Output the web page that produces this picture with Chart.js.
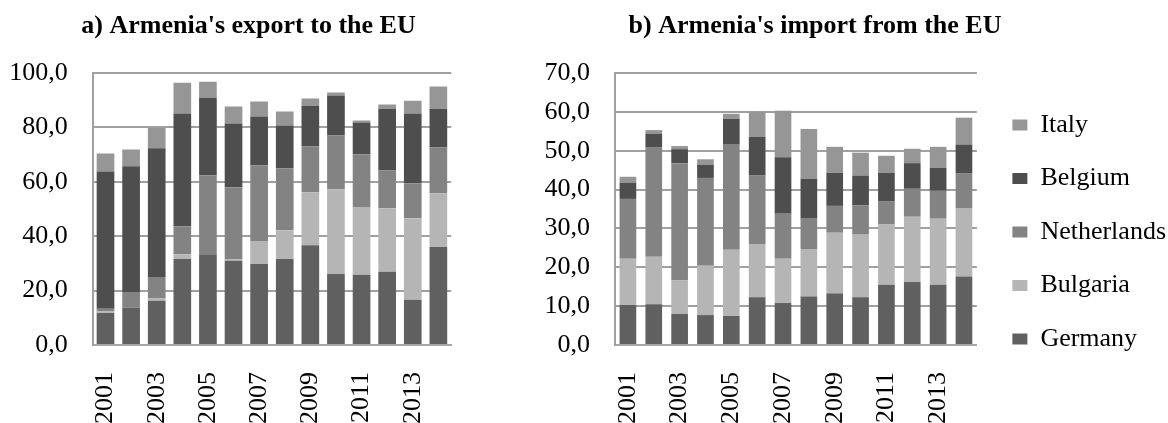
<!DOCTYPE html>
<html>
<head>
<meta charset="utf-8">
<script src="https://cdn.jsdelivr.net/npm/chart.js@4.4.1/dist/chart.umd.min.js"></script>
<style>
  html, body { margin: 0; padding: 0; background: #fff; }
  body { width: 1168px; height: 423px; overflow: hidden; position: relative; }
  canvas { position: absolute; top: 0; }
  #c1 { left: 0px; }
  #c2 { left: 454px; }
</style>
</head>
<body>
<canvas id="c1" width="497" height="464"></canvas>
<canvas id="c2" width="722" height="464"></canvas>
<script>
// ---- data ----
const years = ['2001','2002','2003','2004','2005','2006','2007','2008','2009','2010','2011','2012','2013','2014'];
const countries = ['Germany','Bulgaria','Netherlands','Belgium','Italy'];

// a) Armenia's export to the EU
const exportGermany     = [11.8, 13.8, 16.3, 31.6, 33.1, 31.0, 29.8, 31.6, 36.7, 26.1, 25.8, 26.9, 16.6, 36.0];
const exportBulgaria    = [0.5, 0.0, 0.8, 1.8, 0.0, 0.4, 8.4, 10.6, 19.5, 31.2, 24.9, 23.4, 30.0, 19.8];
const exportNetherlands = [1.0, 5.7, 7.9, 10.3, 29.3, 26.6, 27.8, 22.7, 16.8, 19.7, 19.4, 13.9, 12.9, 16.8];
const exportBelgium     = [50.5, 46.2, 47.3, 41.4, 28.5, 23.4, 18.0, 15.8, 15.0, 14.7, 11.7, 22.7, 25.6, 14.3];
const exportItaly       = [6.6, 6.2, 7.5, 11.3, 5.9, 6.3, 5.5, 5.1, 2.6, 1.1, 0.7, 1.5, 4.7, 8.1];

// b) Armenia's import from the EU
const importGermany     = [10.3, 10.5, 8.0, 7.7, 7.5, 12.3, 10.8, 12.5, 13.3, 12.3, 15.5, 16.2, 15.5, 17.6];
const importBulgaria    = [11.9, 12.2, 8.6, 12.7, 17.0, 13.7, 11.4, 12.2, 15.6, 16.1, 15.5, 16.8, 17.0, 17.5];
const importNetherlands = [15.4, 28.1, 30.2, 22.6, 27.2, 17.6, 11.6, 7.8, 6.9, 7.5, 5.9, 7.2, 7.2, 9.0];
const importBelgium     = [4.2, 3.6, 3.6, 3.4, 6.5, 10.0, 14.5, 10.3, 8.5, 7.7, 7.4, 6.6, 5.9, 7.5];
const importItaly       = [1.5, 0.9, 0.8, 1.4, 1.3, 6.4, 12.0, 12.8, 6.7, 5.9, 4.4, 3.7, 5.4, 6.9];

const exportTicksMax = 100, exportTicksStep = 20;
const importTicksMax = 70, importTicksStep = 10;

const titleA = "a) Armenia's export to the EU";
const titleB = "b) Armenia's import from the EU";

// ---- styles ----
const colors = {
  Germany: '#606060',
  Bulgaria: '#b5b5b5',
  Netherlands: '#838383',
  Belgium: '#4e4e4e',
  Italy: '#969696'
};
const FONT = "'Liberation Serif', 'Times New Roman', serif";
Chart.defaults.font.family = FONT;
Chart.defaults.color = '#000';

function makeDatasets(arrs, barPct) {
  return countries.map((c, i) => ({
    label: c,
    data: arrs[i],
    backgroundColor: colors[c],
    borderWidth: 0,
    barPercentage: barPct,
    categoryPercentage: 1.0
  }));
}

function commaFmt(v) { return Number(v).toFixed(1).replace('.', ','); }

function makeOptions(opts) {
  return {
    responsive: false,
    animation: false,
    layout: { padding: 0 },
    plugins: {
      title: {
        display: true,
        text: opts.title,
        font: { size: 26, weight: 'bold', family: FONT },
        color: '#000',
        padding: { top: 11, bottom: 30.8 }
      },
      legend: opts.legend,
      tooltip: { enabled: false }
    },
    scales: {
      x: {
        stacked: true,
        grid: { display: false, drawTicks: false },
        border: { display: true, color: '#a6a6a6', width: 2 },
        ticks: {
          autoSkip: false,
          minRotation: 90,
          maxRotation: 90,
          padding: 27,
          font: { size: 26, family: FONT },
          color: '#000',
          callback: function(value, index) { return index % 2 === 0 ? this.getLabelForValue(value) : ''; }
        },
        afterFit: s => { s.height = 464 - 345; }
      },
      y: {
        stacked: true,
        min: 0,
        max: opts.max,
        grid: { color: '#a0a0a0', lineWidth: 2, drawTicks: false },
        border: { display: true, color: '#a0a0a0', width: 2 },
        ticks: {
          stepSize: opts.step,
          padding: 25,
          font: { size: 26, family: FONT },
          color: '#000',
          callback: v => commaFmt(v)
        },
        afterFit: s => { s.width = opts.yWidth; }
      },
      pad: {
        type: 'linear',
        position: 'right',
        display: true,
        grid: { display: false, drawTicks: false },
        border: { display: false },
        ticks: { display: false },
        afterFit: s => { s.width = opts.rightPad; }
      }
    }
  };
}

new Chart(document.getElementById('c1'), {
  type: 'bar',
  data: {
    labels: years,
    datasets: makeDatasets([exportGermany, exportBulgaria, exportNetherlands, exportBelgium, exportItaly], 0.69)
  },
  options: makeOptions({
    title: titleA, max: exportTicksMax, step: exportTicksStep, yWidth: 92.7, rightPad: 12,
    legend: { display: false }
  })
});

new Chart(document.getElementById('c2'), {
  type: 'bar',
  data: {
    labels: years,
    datasets: makeDatasets([importGermany, importBulgaria, importNetherlands, importBelgium, importItaly], 0.645)
  },
  options: makeOptions({
    title: titleB, max: importTicksMax, step: importTicksStep, yWidth: 161, rightPad: 8,
    legend: {
      display: true,
      position: 'right',
      align: 'center',
      reverse: true,
      maxWidth: 260,
      labels: {
        boxWidth: 15,
        boxHeight: 11,
        padding: 27.5,
        color: '#000',
        font: { size: 26, family: FONT }
      }
    }
  })
});
</script>
</body>
</html>
